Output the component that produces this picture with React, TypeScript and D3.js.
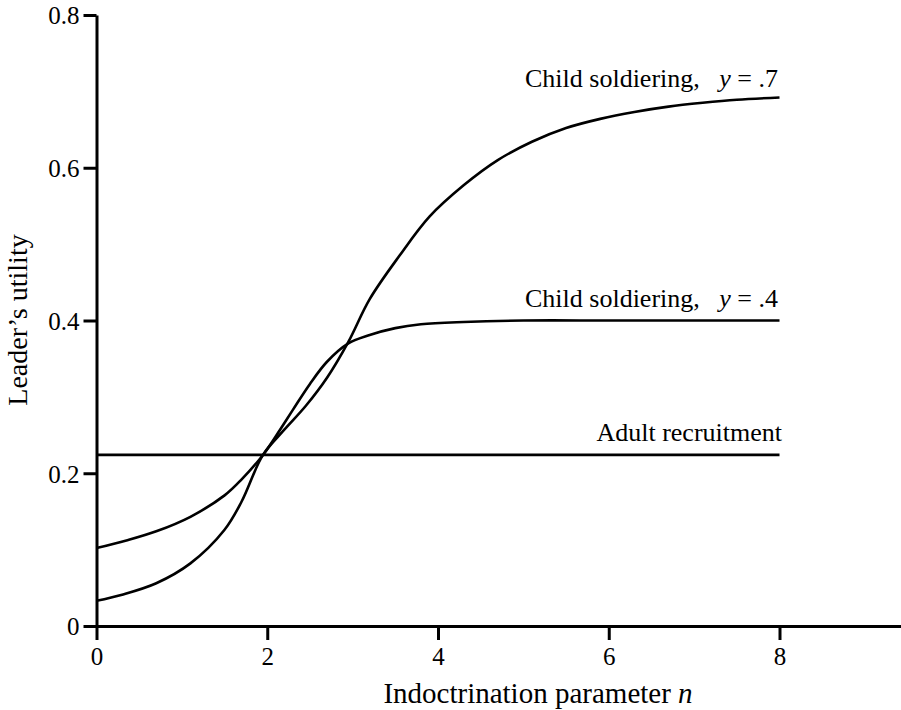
import React, { useEffect, useRef } from 'react';
import * as d3 from 'd3';

// values
const nHigh = [0, 0.3, 0.7, 1.1, 1.5, 1.7, 1.95, 2.2, 2.45, 2.7, 2.95, 3.2, 3.55, 3.9, 4.3, 4.7, 5.1, 5.5, 5.9, 6.3, 6.7, 7.1, 7.5, 8];
const utilHigh = [0.033, 0.041, 0.056, 0.082, 0.126, 0.163, 0.224, 0.257, 0.288, 0.325, 0.372, 0.428, 0.485, 0.536, 0.577, 0.61, 0.634, 0.652, 0.664, 0.673, 0.68, 0.685, 0.689, 0.692];

const nLow = [0, 0.35, 0.7, 1.1, 1.5, 1.7, 1.95, 2.15, 2.3, 2.5, 2.7, 2.95, 3.2, 3.5, 3.8, 4.3, 5, 6, 7, 8];
const utilLow = [0.102, 0.112, 0.124, 0.143, 0.171, 0.192, 0.224, 0.257, 0.283, 0.317, 0.346, 0.37, 0.381, 0.39, 0.395, 0.398, 0.4, 0.4, 0.4, 0.4];

const nAdult = [0, 8];
const utilAdult = [0.224, 0.224];

const xTicks = [0, 2, 4, 6, 8];
const yTicks = [0, 0.2, 0.4, 0.6, 0.8];

const FONT = 'Liberation Serif';

export default function App() {
    const ref = useRef<SVGSVGElement>(null);

    useEffect(() => {
        const width = 901;
        const height = 710;

        const svg = d3.select(ref.current);
        svg.selectAll('*').remove();
        svg.attr('width', width).attr('height', height).attr('font-family', FONT);

        const x = d3.scaleLinear().domain([0, 8]).range([96.5, 779.5]);
        const y = d3.scaleLinear().domain([0, 0.8]).range([626, 15]);

        // x axis runs on to the right edge of the picture
        const xAxisScale = x.copy().domain([0, x.invert(width)]).range([96.5, width]);

        const xAxis = d3.axisBottom(xAxisScale)
            .tickValues(xTicks)
            .tickSize(14)
            .tickSizeOuter(0)
            .tickPadding(7)
            .tickFormat(d => d3.format('d')(d as number));

        const yAxis = d3.axisLeft(y)
            .tickValues(yTicks)
            .tickSize(13)
            .tickSizeOuter(0)
            .tickPadding(4)
            .tickFormat(d => (d === 0 ? '0' : d3.format('.1f')(d as number)));

        const gx = svg.append('g')
            .attr('transform', `translate(0,${y(0)})`)
            .call(xAxis);
        const gy = svg.append('g')
            .attr('transform', `translate(${x(0)},0)`)
            .call(yAxis);

        [gx, gy].forEach(g => {
            g.attr('font-family', FONT).attr('font-size', 25);
            g.select('.domain').attr('stroke', 'black').attr('stroke-width', 3);
            g.selectAll('.tick line').attr('stroke', 'black').attr('stroke-width', 3);
            g.selectAll('.tick text').attr('fill', 'black');
        });
        gy.selectAll('.tick text').attr('dy', '0.35em');

        const line = d3.line<[number, number]>()
            .x(d => x(d[0]))
            .y(d => y(d[1]))
            .curve(d3.curveCatmullRom.alpha(0.5));

        const series = [
            d3.zip(nHigh, utilHigh),
            d3.zip(nLow, utilLow),
            d3.zip(nAdult, utilAdult),
        ];

        svg.append('g')
            .selectAll('path')
            .data(series)
            .enter()
            .append('path')
            .attr('d', d => line(d as [number, number][]))
            .attr('fill', 'none')
            .attr('stroke', 'black')
            .attr('stroke-width', 2.6);

        // curve labels
        const label = (tx: number, ty: number, main: string, italic?: string, tail?: string) => {
            const t = svg.append('text')
                .attr('x', tx)
                .attr('y', ty)
                .attr('text-anchor', 'end')
                .attr('font-family', FONT)
                .attr('font-size', 26)
                .attr('fill', 'black');
            t.append('tspan').text(main);
            if (italic) t.append('tspan').attr('font-style', 'italic').text(italic);
            if (tail) t.append('tspan').text(tail);
        };

        label(778, 87, 'Child soldiering,\u00a0\u00a0\u00a0', 'y', ' = .7');
        label(778, 307, 'Child soldiering,\u00a0\u00a0\u00a0', 'y', ' = .4');
        label(782, 441, 'Adult recruitment');

        // axis titles
        const xt = svg.append('text')
            .attr('x', 538)
            .attr('y', 703)
            .attr('text-anchor', 'middle')
            .attr('font-family', FONT)
            .attr('font-size', 29)
            .attr('fill', 'black');
        xt.append('tspan').text('Indoctrination parameter ');
        xt.append('tspan').attr('font-style', 'italic').text('n');

        svg.append('text')
            .attr('transform', 'translate(27,320) rotate(-90)')
            .attr('text-anchor', 'middle')
            .attr('font-family', FONT)
            .attr('font-size', 28)
            .attr('fill', 'black')
            .text('Leader\u2019s utility');
    }, []);

    return (
        <div>
            <svg ref={ref} style={{ position: 'absolute', left: 0, top: 0, background: 'white' }} />
        </div>
    );
}
